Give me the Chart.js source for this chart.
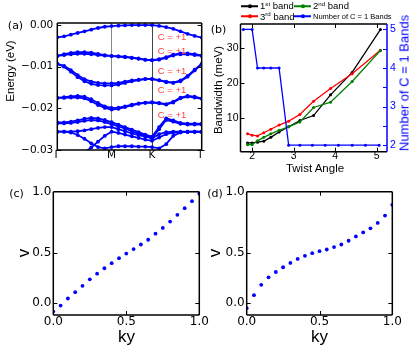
<!DOCTYPE html>
<html>
<head>
<meta charset="utf-8">
<title>Bands, bandwidths and Wilson loops</title>
<script src="https://cdn.jsdelivr.net/npm/chart.js@4.4.1/dist/chart.umd.min.js"></script>
<style>
  html, body { margin: 0; padding: 0; background: #fff; }
  #fig { position: relative; width: 416px; height: 350px; overflow: hidden;
         font-family: "Liberation Sans", Arial, sans-serif; color: #000; }
  #fig canvas { position: absolute; }
  .t { position: absolute; white-space: nowrap; line-height: 1; transform: translate(-50%, -50%); }
  .t.rot { transform: translate(-50%, -50%) rotate(-90deg); }
  .panel { font-family: "DejaVu Sans", sans-serif; font-size: 11px; }
  .leg { position: absolute; display: flex; align-items: center; white-space: nowrap;
         font-size: 9.5px; line-height: 1; transform: translateY(-50%); }
  .leg .mk { position: relative; width: 17px; height: 1.6px; margin-right: 2px; }
  .leg .mk::after { content: ''; position: absolute; left: 6.5px; top: -1.2px; width: 4px; height: 4px;
                    border-radius: 50%; background: inherit; }
  .leg sup { font-size: 0.65em; vertical-align: 0; position: relative; top: -0.5em; }
</style>
</head>
<body>
<div id="fig">
  <canvas id="chartA" width="210" height="175" style="left:0;top:0"></canvas>
  <canvas id="chartB" width="216" height="175" style="left:200px;top:0"></canvas>
  <canvas id="chartC" width="212" height="170" style="left:0;top:180px"></canvas>
  <canvas id="chartD" width="216" height="170" style="left:200px;top:180px"></canvas>

  <div class="t panel" style="left:15.5px;top:25px">(a)</div>
  <div class="t panel" style="left:218.5px;top:29px">(b)</div>
  <div class="t panel" style="left:16.5px;top:193px">(c)</div>
  <div class="t panel" style="left:215px;top:193px">(d)</div>

  <div class="t rot" style="left:11px;top:71px;font-size:11.5px">Energy (eV)</div>
  <div class="t rot" style="left:219px;top:90px;font-size:11.5px">Bandwidth (meV)</div>
  <div class="t rot" style="left:404px;top:83px;font-size:13px;color:#0000ff">Number of C = 1 Bands</div>
  <div class="t" style="left:315px;top:169px;font-size:11.5px">Twist Angle</div>
  <div class="t" style="left:126.5px;top:336px;font-size:17px">ky</div>
  <div class="t" style="left:319.5px;top:336px;font-size:17px">ky</div>
  <div class="t rot" style="left:23px;top:253px;font-size:17px">v</div>
  <div class="t rot" style="left:214.3px;top:253px;font-size:17px">v</div>

  <div class="leg" style="left:241px;top:6.3px"><span class="mk" style="background:#000"></span><span>1<sup>st</sup> band</span></div>
  <div class="leg" style="left:294px;top:6.3px"><span class="mk" style="background:#008000"></span><span>2<sup>nd</sup> band</span></div>
  <div class="leg" style="left:241px;top:16.5px"><span class="mk" style="background:#ff0000"></span><span>3<sup>rd</sup> band</span></div>
  <div class="leg" style="left:294px;top:16.5px"><span class="mk" style="background:#0000ff"></span><span style="font-size:7.5px">Number of C = 1 Bands</span></div>
</div>

<script>
// ---------- (a) band structure, energies in meV along the path Γ-M-K-Γ ----------
const kPath = [0, 0.047, 0.094, 0.141, 0.188, 0.235, 0.282, 0.329, 0.376, 0.423, 0.469,
               0.516, 0.563, 0.609, 0.656, 0.705, 0.754, 0.803, 0.853, 0.902, 0.951, 1.0];
const kTickPos = [0, 0.376, 0.656, 1];
const kTickLabels = ['Γ', 'M', 'K', 'Γ'];
const energyTicks = [0, -10, -20, -30];
const energyTickLabels = ['0.00', '\u22120.01', '\u22120.02', '\u22120.03'];

const band1  = [-2.95, -2.7, -2.3, -1.9, -1.5, -1.1, -0.7, -0.4, -0.25, -0.15, -0.05, 0, 0, 0, 0, -0.2, -0.5, -0.9, -1.5, -2.1, -2.6, -3.0];
const band2a = [-7.4, -7.0, -6.7, -6.5, -6.5, -6.6, -6.9, -7.2, -7.4, -7.5, -7.6, -7.8, -8.0, -8.3, -8.4, -8.2, -7.7, -7.1, -6.8, -6.8, -7.0, -7.3];
const band2b = [-7.4, -7.2, -7.0, -6.9, -6.9, -7.0, -7.2, -7.35, -7.45, -7.55, -7.7, -7.9, -8.1, -8.35, -8.45, -8.3, -7.9, -7.3, -7.0, -7.0, -7.2, -7.4];
const band3a = [-9.3, -9.8, -10.8, -12.0, -13.0, -13.6, -13.9, -14.0, -14.0, -13.9, -13.6, -13.3, -13.1, -12.9, -12.9, -13.2, -13.6, -13.8, -13.3, -12.2, -10.7, -9.3];
const band3b = [-9.3, -10.0, -11.2, -12.5, -13.5, -14.1, -14.4, -14.5, -14.5, -14.3, -13.9, -13.5, -13.2, -13.0, -13.0, -13.3, -13.7, -13.9, -13.5, -12.4, -10.9, -9.4];
const band4a = [-17.5, -17.3, -17.1, -17.0, -17.2, -17.8, -18.7, -19.5, -19.9, -19.8, -19.5, -19.1, -18.8, -18.6, -18.5, -18.7, -19.0, -18.4, -17.4, -17.0, -17.2, -17.6];
const band4b = [-17.5, -17.5, -17.4, -17.4, -17.6, -18.3, -19.2, -19.9, -20.3, -20.1, -19.7, -19.3, -18.9, -18.7, -18.6, -18.8, -19.1, -18.6, -17.6, -17.2, -17.4, -17.7];
const band5a = [-23.4, -23.4, -23.2, -22.9, -22.5, -22.3, -22.4, -22.8, -23.3, -23.9, -24.5, -25.1, -25.7, -26.3, -26.8, -24.5, -22.4, -22.9, -23.5, -23.7, -23.7, -23.7];
const band5b = [-23.6, -23.6, -23.5, -23.3, -23.0, -22.8, -22.9, -23.3, -23.8, -24.3, -24.9, -25.5, -26.1, -26.6, -27.1, -25.0, -22.8, -23.2, -23.7, -23.9, -23.9, -23.9];
const band6  = [-25.6, -25.6, -25.6, -25.5, -25.3, -25.0, -24.7, -24.5, -24.5, -25.0, -25.5, -26.0, -26.4, -26.8, -27.2, -26.2, -25.7, -25.6, -25.6, -25.6, -25.6, -25.6];
const band7  = [-25.6, -25.6, -25.8, -26.4, -27.3, -28.4, -29.3, -29.6, -29.3, -29.1, -29.1, -29.1, -29.2, -29.2, -29.3, -29.6, -28.6, -26.6, -25.8, -25.6, -25.6, -25.6];
const band8  = [null, null, null, -31.8, -30.6, -29.4, -28.0, -26.6, -25.6, -25.9, -26.3, -26.7, -27.1, -27.5, -27.8, -27.0, -26.2, -25.8, -25.7, -25.7, -25.7, -25.7];
const bands = [band1, band2a, band2b, band3a, band3b, band4a, band4b, band5a, band5b, band6, band7, band8];

// Chern number notes placed next to the bands
const chernNote = 'C = +1';
const chernNoteK = 0.794;
const chernNoteE = [-3.05, -6.2, -11.0, -15.8, -21.65];

// ---------- (b) bandwidth vs twist angle ----------
const angles = [1.89, 2.0, 2.13, 2.28, 2.45, 2.65, 2.88, 3.15, 3.48, 3.89, 4.41, 5.09];
const band1Width = [2.9, 2.9, 3.1, 3.4, 4.5, 6.0, 7.5, 9.3, 10.7, 16.6, 23.0, 35.2];
const band2Width = [2.4, 2.4, 3.5, 4.5, 5.5, 6.5, 7.5, 8.9, 13.0, 14.5, 20.4, 29.2];
const band3Width = [5.5, 5.1, 4.9, 5.8, 6.8, 8.0, 9.1, 11.0, 14.8, 18.4, 22.6, 29.3];
const chernAngles = [1.79, 2.0, 2.13, 2.28, 2.45, 2.65, 2.88, 3.15, 3.45, 3.76, 4.08, 4.41, 4.73, 5.06];
const chernBandCount = [5, 5, 4, 4, 4, 4, 2, 2, 2, 2, 2, 2, 2, 2];
const angleTicks = [2, 3, 4, 5];
const widthTicks = [10, 20, 30];
const countTicks = [2, 3, 4, 5];
const countMinorTicks = [2, 2.5, 3, 3.5, 4, 4.5, 5];

// ---------- (c), (d) Wannier centre v vs ky ----------
const ky = [0, 0.05, 0.1, 0.15, 0.2, 0.25, 0.3, 0.35, 0.4, 0.45, 0.5,
            0.55, 0.6, 0.65, 0.7, 0.75, 0.8, 0.85, 0.9, 0.95, 1.0];
const wannierC = [-0.083, -0.023, 0.047, 0.11, 0.173, 0.237, 0.293, 0.347, 0.397, 0.447, 0.493,
                  0.537, 0.583, 0.63, 0.69, 0.747, 0.81, 0.877, 0.943, 1.013, 1.087];
const wannierD = [-0.05, 0.08, 0.183, 0.257, 0.31, 0.357, 0.4, 0.44, 0.47, 0.497, 0.517,
                  0.533, 0.557, 0.583, 0.62, 0.663, 0.703, 0.743, 0.797, 0.87, 0.977];
const kyTicks = [0, 0.5, 1];
const kyTickLabels = ['0.0', '0.5', '1.0'];
const vTicks = [0, 0.5, 1.107];
const vTickLabels = ['0.0', '0.5', '1.0'];

const BLUE = '#0000ff';
const LIB = '"Liberation Sans", Arial, sans-serif';
Chart.defaults.color = '#000';
Chart.defaults.font.family = '"DejaVu Sans", sans-serif';

function fixedTicks(values) {
    return function(scale) { scale.ticks = values.map(v => ({ value: v })); };
}
function labelsFrom(labels) {
    return function(value, index) { return labels[index]; };
}
const noGrid = { display: false, drawTicks: false };

// frame around the plot area plus short inward ticks, matplotlib style
function boxPlugin(sides, tickSets) {
    return {
        id: 'box',
        afterDatasetsDraw(chart) {
            const ctx = chart.ctx;
            const a = chart.chartArea;
            ctx.save();
            ctx.lineWidth = 1;
            tickSets.forEach(t => {
                const sc = chart.scales[t.axis];
                ctx.strokeStyle = t.color;
                ctx.beginPath();
                t.values.forEach(v => {
                    const p = Math.round(sc.getPixelForValue(v)) + 0.5;
                    t.sides.forEach(side => {
                        if (side === 'bottom') { ctx.moveTo(p, a.bottom); ctx.lineTo(p, a.bottom - 4); }
                        if (side === 'top') { ctx.moveTo(p, a.top); ctx.lineTo(p, a.top + 4); }
                        if (side === 'left') { ctx.moveTo(a.left, p); ctx.lineTo(a.left + 4, p); }
                        if (side === 'right') { ctx.moveTo(a.right, p); ctx.lineTo(a.right - 4, p); }
                    });
                });
                ctx.stroke();
            });
            ctx.lineWidth = 1.5;
            const segs = {
                top: [a.left, a.top, a.right, a.top],
                bottom: [a.left, a.bottom, a.right, a.bottom],
                left: [a.left, a.top, a.left, a.bottom],
                right: [a.right, a.top, a.right, a.bottom]
            };
            Object.keys(segs).forEach(k => {
                const s = segs[k];
                ctx.strokeStyle = sides[k];
                ctx.beginPath();
                ctx.moveTo(s[0], s[1]);
                ctx.lineTo(s[2], s[3]);
                ctx.stroke();
            });
            ctx.restore();
        }
    };
}

const chernText = {
    id: 'chernText',
    afterDatasetsDraw(chart) {
        const ctx = chart.ctx;
        const x = chart.scales.x, y = chart.scales.y;
        ctx.save();
        ctx.fillStyle = '#ff4040';
        ctx.font = '9.5px ' + LIB;
        ctx.textAlign = 'center';
        ctx.textBaseline = 'middle';
        chernNoteE.forEach(e => ctx.fillText(chernNote, x.getPixelForValue(chernNoteK), y.getPixelForValue(e)));
        ctx.restore();
    }
};

const black = { top: '#000', bottom: '#000', left: '#000', right: '#000' };
const noLegend = { legend: { display: false }, tooltip: { enabled: false } };

// (a)
new Chart(document.getElementById('chartA'), {
    type: 'line',
    data: {
        datasets: bands.map(b => ({
            data: kPath.map((k, i) => ({ x: k, y: b[i] })),
            borderColor: BLUE,
            backgroundColor: BLUE,
            borderWidth: 1.8,
            pointRadius: 1.9,
            pointBorderWidth: 0,
            clip: 0
        }))
    },
    options: {
        responsive: false, animation: false, events: [],
        layout: { padding: { left: 0, top: 23, right: 8.3, bottom: 0 } },
        plugins: noLegend,
        scales: {
            x: {
                type: 'linear', min: 0, max: 1,
                afterFit: s => { s.height = 25; },
                afterBuildTicks: fixedTicks(kTickPos),
                ticks: { callback: labelsFrom(kTickLabels), autoSkip: false, maxRotation: 0, padding: -1, font: { size: 10.5 } },
                grid: { drawTicks: false, lineWidth: 1, color: c => c.index === 1 ? '#888' : (c.index === 2 ? '#444' : 'rgba(0,0,0,0)') },
                border: { display: false }
            },
            y: {
                min: -30, max: 0.5,
                afterFit: s => { s.width = 57.3; },
                afterBuildTicks: fixedTicks(energyTicks),
                ticks: { callback: labelsFrom(energyTickLabels), padding: 4, font: { size: 10.5 } },
                grid: noGrid,
                border: { display: false }
            }
        }
    },
    plugins: [boxPlugin(black, [{ axis: 'y', values: energyTicks, sides: ['left', 'right'], color: '#000' }]), chernText]
});

// (b)
function widthSeries(xs, ys, color, axis) {
    return {
        data: xs.map((x, i) => ({ x: x, y: ys[i] })),
        borderColor: color, backgroundColor: color,
        borderWidth: 1.3, pointRadius: 1.5, pointBorderWidth: 0,
        yAxisID: axis, clip: 0
    };
}
new Chart(document.getElementById('chartB'), {
    type: 'line',
    data: {
        datasets: [
            widthSeries(chernAngles, chernBandCount, BLUE, 'y2'),
            widthSeries(angles, band2Width, '#008000', 'y'),
            widthSeries(angles, band3Width, '#ff0000', 'y'),
            widthSeries(angles, band1Width, '#000000', 'y')
        ]
    },
    options: {
        responsive: false, animation: false, events: [],
        layout: { padding: { left: 0, top: 24, right: 0, bottom: 0 } },
        plugins: noLegend,
        scales: {
            x: {
                type: 'linear', min: 1.72, max: 5.25,
                afterFit: s => { s.height = 23.3; },
                afterBuildTicks: fixedTicks(angleTicks),
                ticks: { callback: v => String(v), autoSkip: false, maxRotation: 0, padding: -2, font: { family: LIB, size: 10.5 } },
                grid: noGrid, border: { display: false }
            },
            y: {
                position: 'left', min: 0.4, max: 36.8,
                afterFit: s => { s.width = 40.5; },
                afterBuildTicks: fixedTicks(widthTicks),
                ticks: { callback: v => String(v), padding: 2, font: { family: LIB, size: 10.5 } },
                grid: noGrid, border: { display: false }
            },
            y2: {
                position: 'right', min: 1.83, max: 5.14,
                afterFit: s => { s.width = 29; },
                afterBuildTicks: fixedTicks(countTicks),
                ticks: { callback: v => String(v), padding: 3, color: BLUE, font: { family: LIB, size: 10.5 } },
                grid: noGrid, border: { display: false }
            }
        }
    },
    plugins: [boxPlugin({ top: '#000', bottom: '#000', left: '#000', right: BLUE }, [
        { axis: 'x', values: angleTicks, sides: ['top', 'bottom'], color: '#000' },
        { axis: 'y', values: widthTicks, sides: ['left'], color: '#000' },
        { axis: 'y2', values: countMinorTicks, sides: ['right'], color: BLUE }
    ])]
});

// (c) and (d)
function wannierChart(id, values, axisWidth, padRight) {
    new Chart(document.getElementById(id), {
        type: 'scatter',
        data: {
            datasets: [{
                data: ky.map((k, i) => ({ x: k, y: values[i] })),
                backgroundColor: BLUE, borderWidth: 0, pointRadius: 1.9, clip: 0
            }]
        },
        options: {
            responsive: false, animation: false, events: [],
            layout: { padding: { left: 0, top: 11.7, right: padRight, bottom: 0 } },
            plugins: noLegend,
            scales: {
                x: {
                    type: 'linear', min: 0, max: 1,
                    afterFit: s => { s.height = 35; },
                    afterBuildTicks: fixedTicks(kyTicks),
                    ticks: { callback: labelsFrom(kyTickLabels), autoSkip: false, maxRotation: 0, padding: 0, font: { size: 12 } },
                    grid: noGrid, border: { display: false }
                },
                y: {
                    min: -0.117, max: 1.107,
                    afterFit: s => { s.width = axisWidth; },
                    afterBuildTicks: fixedTicks(vTicks),
                    ticks: { callback: labelsFrom(vTickLabels), padding: 2, font: { size: 12 } },
                    grid: noGrid, border: { display: false }
                }
            }
        },
        plugins: [boxPlugin(black, [
            { axis: 'x', values: [0.5], sides: ['top', 'bottom'], color: '#000' },
            { axis: 'y', values: [0, 0.5], sides: ['left', 'right'], color: '#000' }
        ])]
    });
}
wannierChart('chartC', wannierC, 53.3, 12.7);
wannierChart('chartD', wannierD, 46.7, 23.7);
</script>
</body>
</html>
